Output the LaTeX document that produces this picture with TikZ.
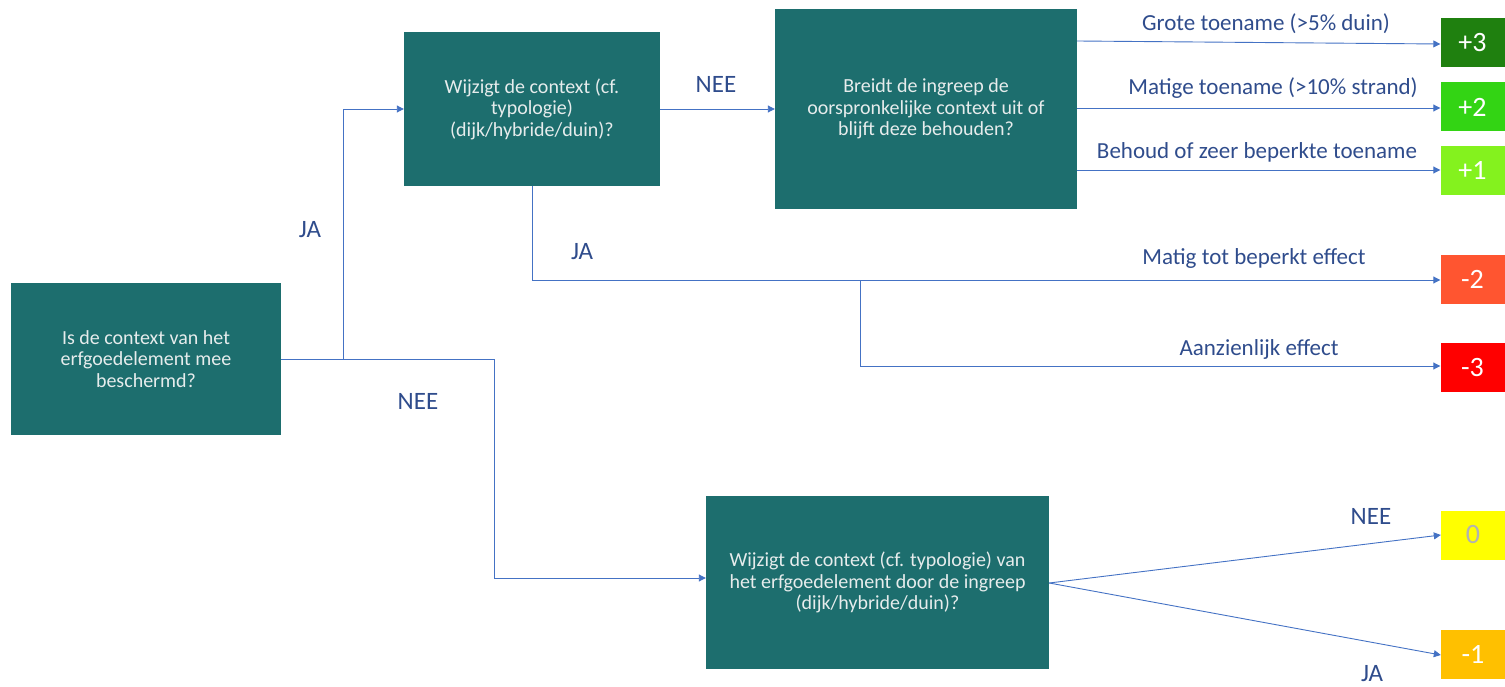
\documentclass[tikz,border=0pt]{standalone}
\usepackage{fontspec}
\setmainfont{Carlito}
\usetikzlibrary{arrows.meta}
\definecolor{teal1}{HTML}{1D6E6E}
\definecolor{boxtxt}{HTML}{E6ECEC}
\definecolor{linec}{HTML}{4472C4}
\definecolor{labc}{HTML}{2F4C8C}
\definecolor{s3}{HTML}{1F800F}
\definecolor{s2}{HTML}{33D414}
\definecolor{s1}{HTML}{84F21E}
\definecolor{sm2}{HTML}{FF5530}
\definecolor{sm3}{HTML}{FF0000}
\definecolor{s0}{HTML}{FFFF00}
\definecolor{sm1}{HTML}{FFC000}
\begin{document}
\begin{tikzpicture}[x=1pt,y=-1pt,
  qbox/.style={fill=teal1,text=boxtxt,align=center,font=\fontsize{20}{21.5}\selectfont,inner sep=0pt},
  score/.style={minimum width=64pt,minimum height=49pt,inner sep=0pt,text=white,font=\fontsize{28}{30}\selectfont},
  conn/.style={draw=linec,line width=0.9pt,-{Triangle[length=7pt,width=7pt]}},
  plain/.style={draw=linec,line width=0.9pt},
  lab/.style={text=labc,font=\fontsize{23}{25}\selectfont,inner sep=0pt},
  lbig/.style={text=labc,font=\fontsize{25}{27}\selectfont,inner sep=0pt}]
\useasboundingbox (0,0) rectangle (1505,687);
% question boxes
\node[qbox,minimum width=270pt,minimum height=152pt] (A) at (146,359) {Is de context van het\\erfgoedelement mee\\beschermd?};
\node[qbox,minimum width=256pt,minimum height=154pt] (B) at (532,109) {Wijzigt de context (cf.\\typologie)\\(dijk/hybride/duin)?};
\node[qbox,minimum width=302pt,minimum height=200pt] (C) at (926,109) {Breidt de ingreep de\\oorspronkelijke context uit of\\blijft deze behouden?};
\node[qbox,minimum width=343pt,minimum height=173pt] (D) at (877.5,582.5) {Wijzigt de context (cf. typologie) van\\het erfgoedelement door de ingreep\\(dijk/hybride/duin)?};
% score boxes
\node[score,fill=s3] (p3) at (1472.5,42.5) {+3};
\node[score,fill=s2] (p2) at (1472.5,107) {+2};
\node[score,fill=s1] (p1) at (1472.5,170.5) {+1};
\node[score,fill=sm2] (m2) at (1472.5,279.5) {-2};
\node[score,fill=sm3] (m3) at (1472.5,367.5) {-3};
\node[score,fill=s0,text=black!30] (z0) at (1473,535) {0};
\node[score,fill=sm1] (m1) at (1473,654.5) {-1};
% coordinates
\coordinate (aj) at (343,359);
\coordinate (an) at (494,359);
\coordinate (bj) at (532,280);
\coordinate (br) at (860,280);
% connectors
\draw[conn] (A.east |- aj) -- (aj) |- (B.west);
\draw[conn] (A.east |- an) -- (an) |- (D.west |- 0,578);
\draw[conn] (B.east) -- (C.west |- B.east);
\draw[plain] (B.south) -- (bj);
\draw[conn] (bj) -- (m2.west |- bj);
\draw[conn] (br) |- (m3.west |- 0,366);
\draw[conn] (C.east |- 0,41) -- (p3.west |- 0,44);
\draw[conn] (C.east |- 0,108) -- (p2.west |- 0,108);
\draw[conn] (C.east |- 0,170) -- (p1.west |- 0,170);
\draw[conn] (D.east |- 0,583) -- (z0.west |- 0,535);
\draw[conn] (D.east |- 0,583) -- (m1.west |- 0,655);
% labels
\node[lbig] (l1) at (310,230) {JA};
\node[lbig] (l2) at (418,401) {NEE};
\node[lbig] (l3) at (716,84) {NEE};
\node[lbig] (l4) at (582,252) {JA};
\node[lab] (l5) at (1266,24) {Grote toename (>5\% duin)};
\node[lab] (l6) at (1273,88) {Matige toename (>10\% strand)};
\node[lab] (l7) at (1257,152) {Behoud of zeer beperkte toename};
\node[lab] (l8) at (1254,258) {Matig tot beperkt effect};
\node[lab] (l9) at (1259,349) {Aanzienlijk effect};
\node[lbig] (l10) at (1371,516) {NEE};
\node[lbig] (l11) at (1372,674) {JA};
\end{tikzpicture}
\end{document}
